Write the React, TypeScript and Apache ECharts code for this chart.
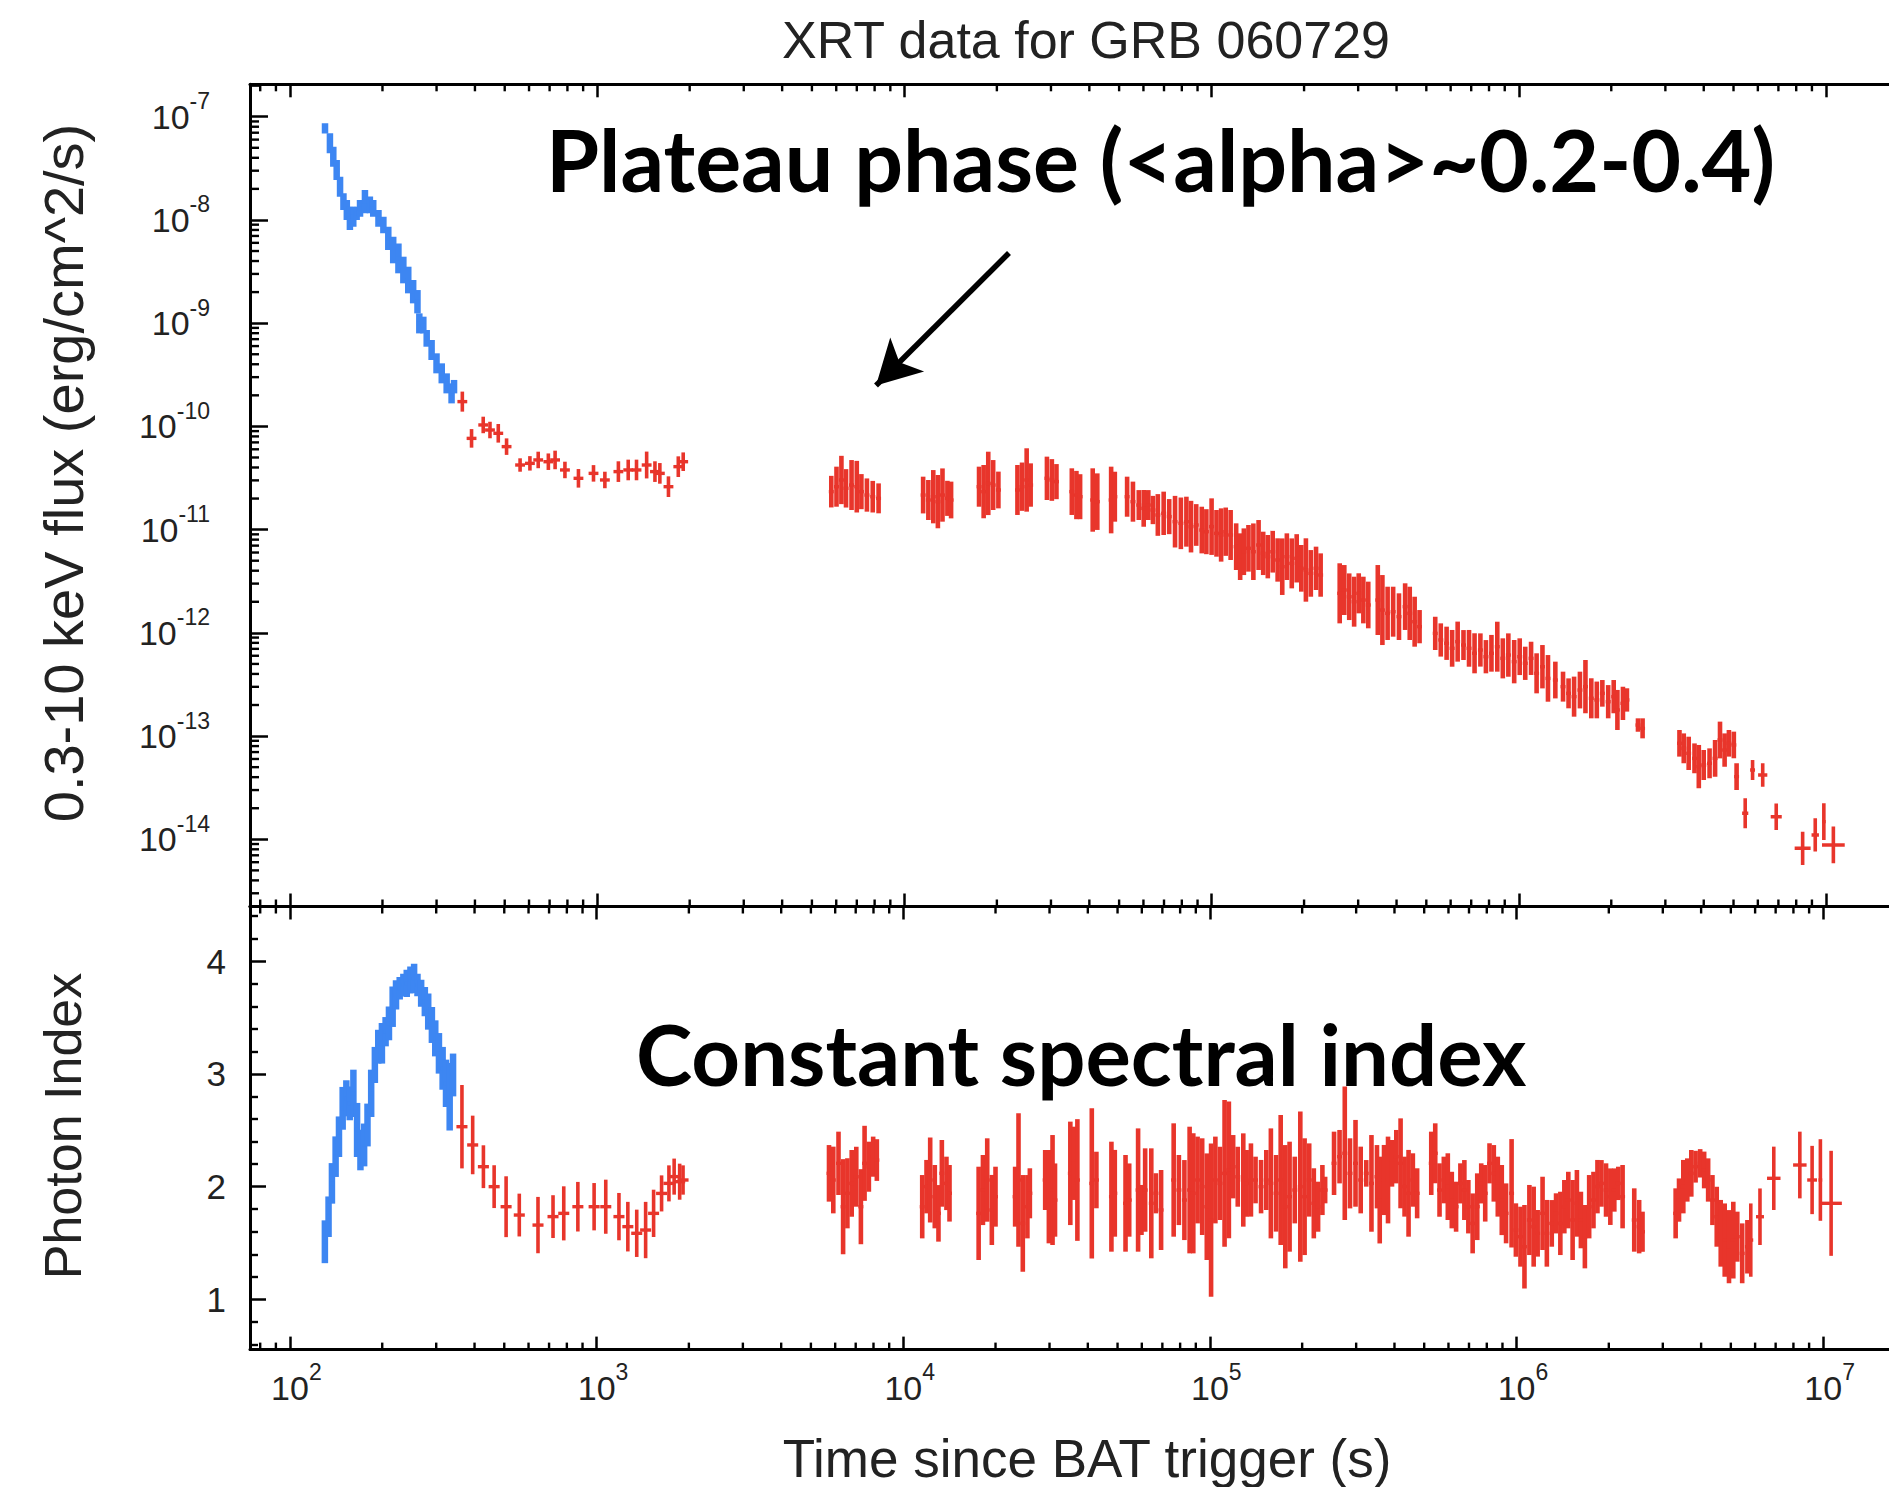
import React, { useEffect, useRef } from 'react';
import * as echarts from 'echarts';

// ---------- texts ----------
const TITLE = 'XRT data for GRB 060729';
const X_NAME = 'Time since BAT trigger (s)';
const Y_FLUX_NAME = '0.3-10 keV flux (erg/cm^2/s)';
const Y_INDEX_NAME = 'Photon Index';
const NOTE_PLATEAU = 'Plateau phase (<alpha>~0.2-0.4)';
const NOTE_INDEX = 'Constant spectral index';

// ---------- axes ----------
const xTickExponents = [2, 3, 4, 5, 6, 7];
const fluxTickExponents = [-14, -13, -12, -11, -10, -9, -8, -7];
const indexTicks = [1, 2, 3, 4];
const X_MIN = 74.1;
const X_MAX = 1.877e7;
const FLUX_MIN = 2.234e-15;
const FLUX_MAX = 2.061e-7;
const INDEX_MIN = 0.554;
const INDEX_MAX = 4.486;

// arrow annotation (data coordinates: time s, flux)
const arrowTail = [21900, 4.79e-9];
const arrowHead = [8085, 2.49e-10];

// ---------- data ----------
// flux rows: [log10 time (s), log10 flux (erg/cm^2/s), flux error (dex), optional time half-width (dex)]
const wtFlux = [
  [2.114, -7.113, 0.05], [2.130, -7.258, 0.097], [2.141, -7.387, 0.097], [2.152, -7.516, 0.097],
  [2.163, -7.678, 0.097], [2.174, -7.823, 0.081], [2.185, -7.904, 0.097], [2.195, -7.985, 0.113],
  [2.206, -7.968, 0.097], [2.217, -7.936, 0.065], [2.228, -7.888, 0.081], [2.244, -7.823, 0.113],
  [2.260, -7.855, 0.081], [2.271, -7.888, 0.081], [2.288, -7.985, 0.081], [2.304, -8.049, 0.081],
  [2.320, -8.178, 0.113], [2.336, -8.291, 0.129], [2.353, -8.372, 0.145], [2.369, -8.485, 0.129],
  [2.385, -8.582, 0.129], [2.401, -8.695, 0.113], [2.415, -8.792, 0.113], [2.421, -9.002, 0.097],
  [2.434, -9.018, 0.081], [2.445, -9.147, 0.081], [2.461, -9.260, 0.097], [2.477, -9.389, 0.097],
  [2.494, -9.486, 0.097], [2.510, -9.583, 0.097], [2.526, -9.680, 0.097], [2.534, -9.615, 0.065],
];

const pcFluxEarly = [
  [2.561, -9.760, 0.097], [2.591, -10.116, 0.09], [2.629, -9.986, 0.08], [2.651, -10.035, 0.08],
  [2.678, -10.067, 0.09], [2.705, -10.196, 0.08], [2.749, -10.374, 0.065], [2.781, -10.358, 0.07],
  [2.808, -10.325, 0.08], [2.841, -10.342, 0.08], [2.863, -10.325, 0.09], [2.895, -10.422, 0.08],
  [2.939, -10.503, 0.09], [2.988, -10.455, 0.08], [3.025, -10.519, 0.08], [3.069, -10.438, 0.1],
  [3.101, -10.422, 0.1], [3.128, -10.422, 0.1], [3.161, -10.374, 0.13], [3.188, -10.438, 0.1],
  [3.204, -10.455, 0.1], [3.232, -10.584, 0.1], [3.264, -10.390, 0.1], [3.280, -10.342, 0.09],
];

const pcFluxLate = [
  [3.762, -10.632, 0.153], [3.779, -10.584, 0.194], [3.795, -10.519, 0.234], [3.810, -10.600, 0.186],
  [3.828, -10.568, 0.242], [3.845, -10.584, 0.250], [3.860, -10.632, 0.170], [3.878, -10.665, 0.161],
  [3.897, -10.681, 0.153], [3.916, -10.697, 0.145],
  [4.061, -10.665, 0.178], [4.078, -10.713, 0.194], [4.094, -10.681, 0.258], [4.109, -10.729, 0.258],
  [4.124, -10.665, 0.258], [4.140, -10.697, 0.170], [4.152, -10.713, 0.178],
  [4.243, -10.584, 0.194], [4.258, -10.632, 0.258], [4.273, -10.552, 0.307], [4.289, -10.568, 0.242],
  [4.306, -10.616, 0.178],
  [4.368, -10.616, 0.242], [4.383, -10.584, 0.234], [4.398, -10.519, 0.307], [4.411, -10.568, 0.210],
  [4.464, -10.503, 0.210], [4.480, -10.519, 0.202], [4.495, -10.535, 0.170],
  [4.545, -10.632, 0.226], [4.560, -10.665, 0.234], [4.572, -10.681, 0.218],
  [4.613, -10.713, 0.307], [4.628, -10.729, 0.274],
  [4.673, -10.713, 0.323], [4.685, -10.681, 0.242],
  [4.725, -10.681, 0.194], [4.744, -10.729, 0.194], [4.763, -10.762, 0.145], [4.779, -10.794, 0.178],
  [4.794, -10.762, 0.145], [4.809, -10.810, 0.137], [4.825, -10.858, 0.202], [4.844, -10.842, 0.210],
  [4.862, -10.874, 0.170], [4.881, -10.923, 0.250], [4.900, -10.939, 0.250], [4.918, -10.923, 0.242],
  [4.933, -10.971, 0.250], [4.950, -10.955, 0.202], [4.968, -11.004, 0.226], [4.983, -11.020, 0.218],
  [5.000, -10.971, 0.274], [5.016, -11.036, 0.226], [5.031, -11.052, 0.258], [5.046, -11.020, 0.234],
  [5.062, -11.052, 0.242], [5.080, -11.165, 0.226], [5.093, -11.262, 0.226], [5.105, -11.214, 0.226],
  [5.120, -11.181, 0.226], [5.136, -11.214, 0.274], [5.153, -11.149, 0.242], [5.168, -11.230, 0.210],
  [5.183, -11.262, 0.210], [5.199, -11.214, 0.202], [5.215, -11.294, 0.210], [5.230, -11.359, 0.274],
  [5.245, -11.262, 0.226], [5.261, -11.327, 0.242], [5.277, -11.278, 0.234], [5.292, -11.375, 0.226],
  [5.307, -11.391, 0.307], [5.323, -11.424, 0.226], [5.340, -11.375, 0.210], [5.355, -11.440, 0.210],
  [5.417, -11.617, 0.291], [5.432, -11.585, 0.242], [5.448, -11.650, 0.226], [5.464, -11.698, 0.242],
  [5.479, -11.617, 0.194], [5.494, -11.682, 0.226], [5.510, -11.730, 0.226], [5.541, -11.682, 0.339],
  [5.556, -11.779, 0.339], [5.573, -11.811, 0.258], [5.591, -11.795, 0.242], [5.610, -11.843, 0.226],
  [5.630, -11.746, 0.226], [5.645, -11.811, 0.258], [5.661, -11.892, 0.242], [5.677, -11.940, 0.161],
  [5.728, -12.005, 0.161], [5.746, -12.069, 0.161], [5.765, -12.101, 0.161], [5.783, -12.150, 0.178],
  [5.801, -12.085, 0.194], [5.820, -12.118, 0.145], [5.838, -12.150, 0.178], [5.856, -12.198, 0.194],
  [5.875, -12.166, 0.161], [5.893, -12.231, 0.161], [5.911, -12.198, 0.178], [5.930, -12.134, 0.242],
  [5.948, -12.247, 0.194], [5.966, -12.215, 0.210], [5.985, -12.279, 0.210], [6.003, -12.231, 0.178],
  [6.021, -12.295, 0.161], [6.040, -12.247, 0.161], [6.058, -12.392, 0.194], [6.077, -12.328, 0.210],
  [6.095, -12.441, 0.226], [6.119, -12.457, 0.178], [6.144, -12.521, 0.145], [6.162, -12.586, 0.145],
  [6.180, -12.618, 0.194], [6.199, -12.554, 0.178], [6.217, -12.521, 0.258], [6.236, -12.634, 0.194],
  [6.254, -12.650, 0.178], [6.272, -12.586, 0.129], [6.291, -12.667, 0.161], [6.309, -12.618, 0.161],
  [6.321, -12.747, 0.194], [6.339, -12.683, 0.161], [6.352, -12.650, 0.113],
  [6.388, -12.893, 0.065], [6.403, -12.925, 0.097],
  [6.523, -13.070, 0.129], [6.537, -13.119, 0.145], [6.553, -13.167, 0.161], [6.572, -13.216, 0.145],
  [6.586, -13.296, 0.210], [6.602, -13.280, 0.145], [6.621, -13.264, 0.145], [6.639, -13.216, 0.178],
  [6.655, -13.038, 0.178], [6.670, -13.135, 0.161], [6.684, -13.070, 0.129], [6.700, -13.086, 0.129],
  [6.709, -13.393, 0.129],
];

const pcFluxTail = [
  [6.737, -13.748, 0.145, 0.010], [6.761, -13.329, 0.097, 0.008], [6.794, -13.377, 0.113, 0.015],
  [6.838, -13.781, 0.129, 0.018], [6.924, -14.087, 0.161, 0.026], [6.965, -13.958, 0.161, 0.012],
  [6.993, -13.829, 0.178, 0.006], [7.024, -14.055, 0.178, 0.037],
];

// photon index rows: [log10 time (s), photon index, error, optional time half-width (dex)]
const wtIndex = [
  [2.114, 1.511, 0.19], [2.126, 1.733, 0.18], [2.137, 2.029, 0.18], [2.149, 2.266, 0.18],
  [2.160, 2.443, 0.18], [2.172, 2.695, 0.19], [2.184, 2.784, 0.16], [2.195, 2.739, 0.15],
  [2.207, 2.828, 0.21], [2.219, 2.503, 0.24], [2.230, 2.325, 0.18], [2.242, 2.370, 0.19],
  [2.253, 2.547, 0.19], [2.265, 2.828, 0.21], [2.277, 3.080, 0.16], [2.288, 3.242, 0.15],
  [2.300, 3.272, 0.18], [2.312, 3.375, 0.13], [2.323, 3.449, 0.15], [2.335, 3.597, 0.18],
  [2.346, 3.701, 0.13], [2.358, 3.760, 0.10], [2.370, 3.790, 0.10], [2.381, 3.804, 0.12],
  [2.393, 3.834, 0.12], [2.405, 3.849, 0.13], [2.416, 3.790, 0.10], [2.428, 3.716, 0.12],
  [2.440, 3.642, 0.13], [2.451, 3.553, 0.16], [2.463, 3.435, 0.16], [2.474, 3.316, 0.16],
  [2.486, 3.183, 0.18], [2.498, 3.050, 0.19], [2.509, 2.917, 0.21], [2.521, 2.798, 0.30],
  [2.532, 2.991, 0.19],
];

const pcIndexEarly = [
  [2.561, 2.532, 0.37], [2.596, 2.370, 0.26], [2.631, 2.177, 0.19], [2.666, 2.000, 0.19],
  [2.705, 1.822, 0.27], [2.748, 1.748, 0.19], [2.809, 1.659, 0.25], [2.858, 1.734, 0.19],
  [2.893, 1.763, 0.24], [2.939, 1.822, 0.22], [2.992, 1.822, 0.21], [3.030, 1.822, 0.24],
  [3.073, 1.734, 0.21], [3.102, 1.645, 0.22], [3.131, 1.586, 0.21], [3.160, 1.615, 0.25],
  [3.186, 1.763, 0.21], [3.212, 1.940, 0.16], [3.236, 2.029, 0.16], [3.253, 2.089, 0.16],
  [3.271, 2.044, 0.16], [3.282, 2.059, 0.13],
];

const pcIndexLate = [
  [3.758, 2.118, 0.251], [3.772, 2.059, 0.296], [3.789, 2.207, 0.281], [3.804, 1.822, 0.422],
  [3.818, 1.941, 0.311], [3.832, 2.029, 0.296], [3.847, 2.088, 0.266], [3.862, 1.822, 0.333],
  [3.874, 2.207, 0.333], [3.888, 2.177, 0.222], [3.902, 2.266, 0.178], [3.914, 2.236, 0.185],
  [4.062, 1.822, 0.281], [4.076, 2.000, 0.237], [4.088, 2.059, 0.377], [4.103, 1.911, 0.281],
  [4.115, 1.763, 0.251], [4.126, 2.118, 0.296], [4.141, 2.029, 0.237], [4.151, 1.941, 0.251],
  [4.246, 1.763, 0.414], [4.260, 1.970, 0.311], [4.274, 2.059, 0.370], [4.289, 1.793, 0.311],
  [4.301, 1.911, 0.266],
  [4.365, 1.911, 0.266], [4.376, 2.059, 0.592], [4.390, 1.674, 0.429], [4.405, 1.822, 0.281],
  [4.413, 1.941, 0.222],
  [4.463, 2.059, 0.266], [4.475, 1.911, 0.414], [4.487, 1.970, 0.488], [4.495, 1.881, 0.325],
  [4.545, 2.118, 0.459], [4.557, 2.207, 0.325], [4.568, 2.059, 0.540],
  [4.615, 2.029, 0.666], [4.630, 2.059, 0.251],
  [4.679, 1.911, 0.488], [4.690, 1.941, 0.385],
  [4.725, 1.852, 0.429], [4.737, 1.881, 0.325], [4.766, 1.970, 0.547], [4.777, 1.793, 0.222],
  [4.789, 1.970, 0.370], [4.809, 1.852, 0.488], [4.824, 1.941, 0.178], [4.841, 1.793, 0.355],
  [4.882, 2.059, 0.503], [4.899, 1.970, 0.311], [4.917, 1.881, 0.355], [4.934, 1.970, 0.562],
  [4.946, 1.941, 0.533], [4.960, 2.059, 0.385], [4.975, 2.000, 0.429], [4.990, 1.822, 0.473],
  [5.004, 1.704, 0.680], [5.018, 2.059, 0.385], [5.033, 2.029, 0.325], [5.048, 2.118, 0.651],
  [5.062, 2.148, 0.607], [5.076, 2.177, 0.281], [5.091, 2.088, 0.266], [5.109, 2.059, 0.414],
  [5.120, 2.029, 0.296], [5.134, 2.059, 0.325], [5.149, 2.059, 0.207], [5.167, 2.000, 0.237],
  [5.184, 2.059, 0.266], [5.199, 2.029, 0.488], [5.216, 1.941, 0.340], [5.231, 2.059, 0.577],
  [5.246, 1.822, 0.547], [5.260, 1.911, 0.488], [5.277, 1.970, 0.296], [5.295, 2.000, 0.666],
  [5.309, 1.911, 0.518], [5.324, 2.059, 0.325], [5.339, 1.852, 0.311], [5.353, 1.822, 0.222],
  [5.367, 1.970, 0.222], [5.376, 1.970, 0.118],
  [5.405, 2.207, 0.281], [5.423, 2.266, 0.237], [5.440, 2.296, 0.592], [5.457, 2.118, 0.311],
  [5.475, 2.207, 0.385], [5.492, 2.059, 0.296], [5.510, 2.118, 0.118], [5.527, 2.029, 0.429],
  [5.545, 2.088, 0.281],
  [5.554, 1.881, 0.385], [5.568, 2.059, 0.311], [5.581, 2.059, 0.385], [5.594, 2.207, 0.207],
  [5.608, 2.266, 0.237], [5.622, 2.207, 0.399], [5.635, 2.000, 0.266], [5.648, 1.941, 0.385],
  [5.662, 2.059, 0.237], [5.676, 1.941, 0.222],
  [5.722, 2.207, 0.281], [5.735, 2.296, 0.266], [5.749, 1.970, 0.237], [5.763, 2.059, 0.207],
  [5.776, 2.000, 0.296], [5.789, 1.881, 0.251], [5.803, 1.822, 0.222], [5.817, 2.029, 0.178],
  [5.830, 1.970, 0.266], [5.843, 1.822, 0.237], [5.857, 1.674, 0.266], [5.872, 1.822, 0.296],
  [5.885, 2.029, 0.178], [5.898, 1.941, 0.251], [5.912, 2.207, 0.178], [5.926, 2.118, 0.251],
  [5.939, 2.000, 0.266], [5.952, 1.881, 0.311], [5.966, 1.763, 0.266], [5.984, 1.941, 0.481],
  [5.998, 1.615, 0.237], [6.013, 1.556, 0.266], [6.026, 1.467, 0.370], [6.042, 1.704, 0.311],
  [6.056, 1.645, 0.355], [6.069, 1.586, 0.207], [6.085, 1.763, 0.325], [6.099, 1.586, 0.296],
  [6.115, 1.674, 0.207], [6.129, 1.763, 0.178], [6.143, 1.674, 0.281], [6.156, 1.822, 0.237],
  [6.169, 1.881, 0.251], [6.183, 1.704, 0.355], [6.197, 1.852, 0.296], [6.210, 1.704, 0.251],
  [6.223, 1.556, 0.281], [6.237, 1.822, 0.281], [6.251, 1.881, 0.251], [6.264, 2.000, 0.237],
  [6.277, 2.029, 0.207], [6.292, 1.970, 0.237], [6.306, 1.911, 0.251], [6.319, 1.970, 0.192],
  [6.332, 2.029, 0.148], [6.346, 1.911, 0.281],
  [6.384, 1.704, 0.281], [6.400, 1.645, 0.237], [6.411, 1.600, 0.178],
  [6.519, 1.763, 0.222], [6.530, 1.881, 0.192], [6.544, 2.000, 0.237], [6.557, 2.059, 0.192],
  [6.570, 2.118, 0.207], [6.584, 2.177, 0.141], [6.599, 2.207, 0.126], [6.612, 2.148, 0.163],
  [6.625, 2.059, 0.192], [6.639, 1.881, 0.222], [6.653, 1.733, 0.266], [6.666, 1.586, 0.296],
  [6.679, 1.526, 0.325], [6.693, 1.467, 0.325], [6.707, 1.526, 0.340], [6.720, 1.556, 0.222],
  [6.736, 1.408, 0.266], [6.753, 1.467, 0.237],
];

const pcIndexTail = [
  [6.764, 1.526, 0.325, 0.008], [6.794, 1.733, 0.251, 0.013], [6.839, 2.074, 0.281, 0.022],
  [6.924, 2.192, 0.296, 0.022], [6.964, 2.059, 0.303, 0.016], [6.991, 2.059, 0.362, 0.006],
  [7.026, 1.852, 0.466, 0.035],
];

// ---------- styling ----------
const BLUE = '#3d86f2';
const RED = '#e8352b';
const INK = '#222222';
const SANS = '"Liberation Sans", Arial, Helvetica, sans-serif';
const BOLD = 'Lato, "Open Sans", sans-serif';

const toFluxRows = (pts: number[][], dt: number) =>
  pts.map((p) => {
    const w = p[3] !== undefined ? p[3] : dt;
    return [10 ** p[0], 10 ** (p[0] - w), 10 ** (p[0] + w), 10 ** p[1], 10 ** (p[1] - p[2]), 10 ** (p[1] + p[2])];
  });
const toIndexRows = (pts: number[][], dt: number) =>
  pts.map((p) => {
    const w = p[3] !== undefined ? p[3] : dt;
    return [10 ** p[0], 10 ** (p[0] - w), 10 ** (p[0] + w), p[1], p[1] - p[2], p[1] + p[2]];
  });

function errorBars(rows: number[][], color: string, xAxisIndex: number, yAxisIndex: number, vw: number, hw: number) {
  return {
    type: 'custom',
    xAxisIndex,
    yAxisIndex,
    silent: true,
    clip: true,
    z: 5,
    data: rows,
    encode: { x: [0, 1, 2], y: [3, 4, 5] },
    renderItem: (_params: any, api: any) => {
      const t = api.value(0);
      const y = api.value(3);
      const c = api.coord([t, y]);
      const top = api.coord([t, api.value(5)]);
      const bot = api.coord([t, api.value(4)]);
      const l = api.coord([api.value(1), y]);
      const r = api.coord([api.value(2), y]);
      return {
        type: 'group',
        children: [
          { type: 'line', shape: { x1: c[0], y1: top[1], x2: c[0], y2: bot[1] }, style: { stroke: color, lineWidth: vw } },
          { type: 'line', shape: { x1: l[0], y1: c[1], x2: r[0], y2: c[1] }, style: { stroke: color, lineWidth: hw } },
        ],
      };
    },
  };
}

function minorXTicks(xAxisIndex: number, yAxisIndex: number, yRef: number, values: number[], len: number) {
  return {
    type: 'custom',
    xAxisIndex,
    yAxisIndex,
    silent: true,
    z: 20,
    data: values.map((v) => [v, yRef]),
    encode: { x: 0, y: 1 },
    renderItem: (params: any, api: any) => {
      const cs = params.coordSys;
      const x = api.coord([api.value(0), api.value(1)])[0];
      const st = { stroke: '#000', lineWidth: 2.4 };
      return {
        type: 'group',
        children: [
          { type: 'line', shape: { x1: x, y1: cs.y, x2: x, y2: cs.y + len }, style: st },
          { type: 'line', shape: { x1: x, y1: cs.y + cs.height, x2: x, y2: cs.y + cs.height - len }, style: st },
        ],
      };
    },
  };
}

function minorYTicks(xAxisIndex: number, yAxisIndex: number, xRef: number, values: number[], len: number) {
  return {
    type: 'custom',
    xAxisIndex,
    yAxisIndex,
    silent: true,
    z: 20,
    data: values.map((v) => [xRef, v]),
    encode: { x: 0, y: 1 },
    renderItem: (params: any, api: any) => {
      const cs = params.coordSys;
      const y = api.coord([api.value(0), api.value(1)])[1];
      return { type: 'line', shape: { x1: cs.x, y1: y, x2: cs.x + len, y2: y }, style: { stroke: '#000', lineWidth: 2.4 } };
    },
  };
}

// y labels: right-aligned "10^n"; x labels: "10" centred on the tick, exponent hanging to the right
const powLabel = (allowed: number[], centreBase: boolean) => (v: number) => {
  const e = Math.log10(v);
  const r = Math.round(e);
  if (Math.abs(e - r) > 1e-6 || allowed.indexOf(r) < 0) return '';
  return centreBase ? `{sp| }{b|10}{s|${r}}` : `{b|10}{s|${r}}`;
};

const powRich = {
  sp: { width: 13, fontSize: 10 },
  b: { fontSize: 34, fontFamily: SANS, color: INK, lineHeight: 36 },
  s: { fontSize: 23, fontFamily: SANS, color: INK, lineHeight: 23, verticalAlign: 'bottom', padding: [0, 0, 22, 0] },
};

export default function App() {
  const ref = useRef<HTMLDivElement>(null);

  useEffect(() => {
    document.body.style.margin = '0';
    if (!ref.current) return;
    const chart = echarts.init(ref.current, undefined, { renderer: 'svg' });

    const minorX: number[] = [];
    for (let e = 1; e <= 7; e++) for (let k = 2; k <= 9; k++) {
      const v = k * 10 ** e;
      if (v > X_MIN && v < X_MAX) minorX.push(v);
    }
    const minorFlux: number[] = [];
    for (let e = -15; e <= -7; e++) for (let k = 2; k <= 9; k++) {
      const v = k * 10 ** e;
      if (v > FLUX_MIN && v < FLUX_MAX) minorFlux.push(v);
    }

    const axisLine = { show: true, onZero: false, lineStyle: { color: '#000', width: 3 } };
    const xCommon = {
      type: 'log',
      logBase: 10,
      min: X_MIN,
      max: X_MAX,
      splitNumber: 5,
      axisLine,
      splitLine: { show: false },
      axisTick: { show: true, inside: true, length: 13, lineStyle: { color: '#000', width: 2.5 } },
    };

    const option: any = {
      animation: false,
      backgroundColor: '#ffffff',
      grid: [
        { left: 250, right: 0, top: 84.3, height: 822.2, containLabel: false },
        { left: 250, right: 0, top: 906.5, height: 443.1, containLabel: false },
      ],
      xAxis: [
        { ...xCommon, gridIndex: 0, position: 'bottom', axisLabel: { show: false } },
        { ...xCommon, gridIndex: 0, position: 'top', axisLabel: { show: false } },
        { ...xCommon, gridIndex: 1, position: 'top', axisLabel: { show: false } },
        {
          ...xCommon,
          gridIndex: 1,
          position: 'bottom',
          axisLabel: { show: true, margin: 20, formatter: powLabel(xTickExponents, true), rich: powRich },
        },
      ],
      yAxis: [
        {
          gridIndex: 0,
          type: 'log',
          logBase: 10,
          min: FLUX_MIN,
          max: FLUX_MAX,
          splitNumber: 8,
          axisLine,
          splitLine: { show: false },
          axisTick: { show: true, inside: true, length: 18, lineStyle: { color: '#000', width: 2.5 } },
          axisLabel: { show: true, margin: 40, align: 'right', formatter: powLabel(fluxTickExponents, false), rich: powRich },
        },
        {
          gridIndex: 1,
          type: 'value',
          min: INDEX_MIN,
          max: INDEX_MAX,
          splitNumber: 4,
          axisLine,
          splitLine: { show: false },
          axisTick: { show: true, inside: true, length: 16, lineStyle: { color: '#000', width: 2.5 } },
          minorTick: { show: true, splitNumber: 5, length: 8, lineStyle: { color: '#000', width: 2.4 } },
          axisLabel: {
            show: true,
            margin: 24,
            fontSize: 35,
            fontFamily: SANS,
            color: INK,
            formatter: (v: number) => (indexTicks.indexOf(Math.round(v)) >= 0 && Math.abs(v - Math.round(v)) < 1e-6 ? String(Math.round(v)) : ''),
          },
        },
      ],
      graphic: [
        { type: 'text', x: 1086, y: 40, style: { text: TITLE, fontSize: 52, fontFamily: SANS, fill: INK, align: 'center', verticalAlign: 'middle' } },
        { type: 'text', x: 1087, y: 1458, style: { text: X_NAME, fontSize: 53, fontFamily: SANS, fill: INK, align: 'center', verticalAlign: 'middle' } },
        { type: 'text', x: 63, y: 473, rotation: Math.PI / 2, style: { text: Y_FLUX_NAME, fontSize: 56, fontFamily: SANS, fill: INK, align: 'center', verticalAlign: 'middle' } },
        { type: 'text', x: 63, y: 1126, rotation: Math.PI / 2, style: { text: Y_INDEX_NAME, fontSize: 52, fontFamily: SANS, fill: INK, align: 'center', verticalAlign: 'middle' } },
        { type: 'text', x: 546, y: 158, z: 30, style: { text: NOTE_PLATEAU, fontSize: 86, fontWeight: 'bold', fontFamily: BOLD, fill: '#000', align: 'left', verticalAlign: 'middle' } },
        { type: 'text', x: 636, y: 1053, z: 30, style: { text: NOTE_INDEX, fontSize: 85, fontWeight: 'bold', fontFamily: BOLD, fill: '#000', align: 'left', verticalAlign: 'middle' } },
      ],
      series: [
        errorBars(toFluxRows(wtFlux, 0.008), BLUE, 0, 0, 6.5, 4),
        errorBars(toFluxRows(pcFluxEarly, 0.016), RED, 0, 0, 3.6, 3.4),
        errorBars(toFluxRows(pcFluxLate, 0.008), RED, 0, 0, 4.6, 3.4),
        errorBars(toFluxRows(pcFluxTail, 0.01), RED, 0, 0, 3.6, 3.4),
        errorBars(toIndexRows(wtIndex, 0.007), BLUE, 3, 1, 6.5, 4),
        errorBars(toIndexRows(pcIndexEarly, 0.018), RED, 3, 1, 3.6, 3.4),
        errorBars(toIndexRows(pcIndexLate, 0.008), RED, 3, 1, 4.6, 3.4),
        errorBars(toIndexRows(pcIndexTail, 0.01), RED, 3, 1, 3.6, 3.4),
        minorXTicks(0, 0, 1e-10, minorX, 7),
        minorXTicks(3, 1, 2, minorX, 7),
        minorYTicks(0, 0, 1000, minorFlux, 9),
        {
          type: 'line',
          xAxisIndex: 0,
          yAxisIndex: 0,
          data: [],
          silent: true,
          symbol: 'none',
          markLine: {
            silent: true,
            symbol: ['none', 'arrow'],
            symbolSize: [36, 44],
            label: { show: false },
            lineStyle: { color: '#000', width: 5.5, type: 'solid' },
            data: [[{ coord: arrowTail }, { coord: arrowHead }]],
          },
        },
      ],
    };

    chart.setOption(option);
    return () => chart.dispose();
  }, []);

  return (
    <div style={{ position: 'absolute', left: 0, top: 0, width: 1889, height: 1487, overflow: 'hidden', background: '#fff' }}>
      <div ref={ref} style={{ width: 1910, height: 1487 }} />
    </div>
  );
}
